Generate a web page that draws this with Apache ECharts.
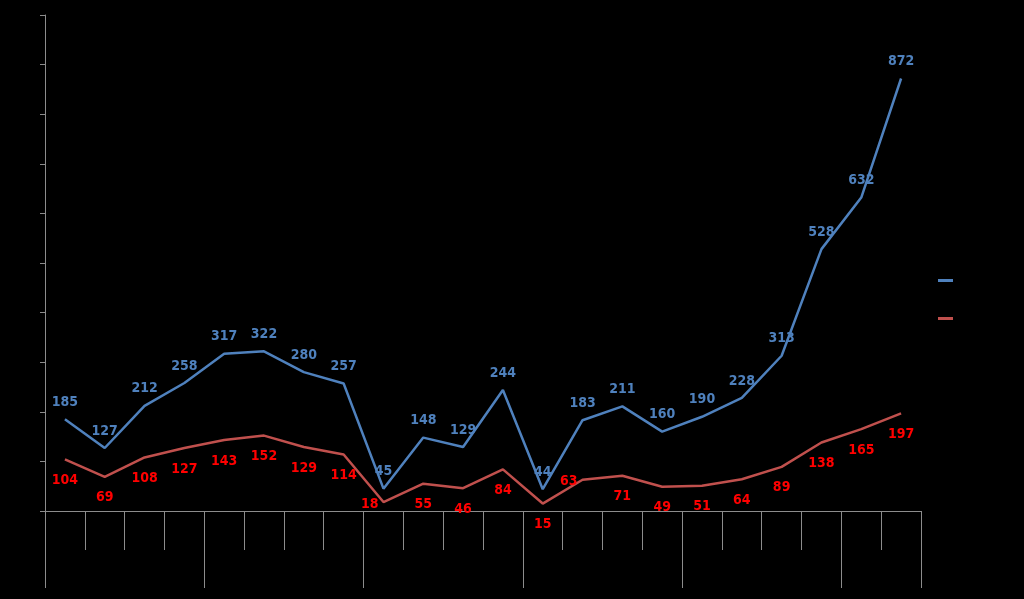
<!DOCTYPE html>
<html>
<head>
<meta charset="utf-8">
<script src="https://cdn.jsdelivr.net/npm/echarts@6/dist/echarts.min.js"></script>
<style>
html,body{margin:0;padding:0;background:#000;}
#chart{width:1024px;height:599px;}
</style>
</head>
<body>
<div id="chart"></div>
<script>
const categories = ['Q1','Q2','Q3','Q4','Q1','Q2','Q3','Q4','Q1','Q2','Q3','Q4','Q1','Q2','Q3','Q4','Q1','Q2','Q3','Q4','Q1','Q2'];
const seriesNames = ['Series 1', 'Series 2'];
const blueValues = [185,127,212,258,317,322,280,257,45,148,129,244,44,183,211,160,190,228,313,528,632,872];
const redValues = [104,69,108,127,143,152,129,114,18,55,46,84,15,63,71,49,51,64,89,138,165,197];
const groupSize = 4;
const yTicks = {min: 0, max: 1000, interval: 100};

// label placement tweaks (style only, kept apart from the data)
const redLabelLeft = {8: true, 13: true};

const axisGray = '#8c8c8c';
const labelFont = {fontFamily: '"DejaVu Sans Condensed", "DejaVu Sans", sans-serif', fontWeight: 'bold', fontSize: 14};

const redData = redValues.map(function (v, i) {
  if (redLabelLeft[i]) {
    return {value: v, label: {position: 'left', distance: 5, offset: [0, 2]}};
  }
  return v;
});

const chart = echarts.init(document.getElementById('chart'));
chart.setOption({
  backgroundColor: '#000',
  animation: false,
  legend: {
    orient: 'vertical',
    left: 933, top: 269,
    itemWidth: 15, itemHeight: 3, itemGap: 25,
    icon: 'rect',
    textStyle: {color: '#000', fontSize: 13},
    data: seriesNames
  },
  grid: {left: 45, right: 103, top: 15, bottom: 88, containLabel: false},
  xAxis: [{
    type: 'category',
    data: categories,
    boundaryGap: true,
    axisLine: {lineStyle: {color: axisGray, width: 1}},
    axisTick: {show: true, interval: 0, length: 39, lineStyle: {color: axisGray}},
    axisLabel: {color: '#000', interval: 0, margin: 14}
  }, {
    type: 'value',
    min: 0, max: categories.length, interval: groupSize,
    position: 'bottom',
    axisLine: {show: false},
    axisTick: {show: true, length: 77, lineStyle: {color: axisGray}},
    axisLabel: {show: false},
    splitLine: {show: false}
  }],
  yAxis: {
    type: 'value',
    min: yTicks.min, max: yTicks.max, interval: yTicks.interval,
    axisLine: {show: true, lineStyle: {color: axisGray}},
    axisTick: {show: true, length: 5, lineStyle: {color: axisGray}},
    axisLabel: {color: '#000'},
    splitLine: {show: false}
  },
  series: [{
    name: seriesNames[0],
    type: 'line',
    data: blueValues,
    symbol: 'circle',
    symbolSize: 0,
    showSymbol: true,
    color: '#4F81BD',
    lineStyle: {color: '#4F81BD', width: 2.5},
    label: Object.assign({show: true, position: 'top', distance: 10, color: '#4F81BD'}, labelFont),
    z: 3
  }, {
    name: seriesNames[1],
    type: 'line',
    data: redData,
    symbol: 'circle',
    symbolSize: 0,
    showSymbol: true,
    color: '#C0504D',
    lineStyle: {color: '#C0504D', width: 2.5},
    label: Object.assign({show: true, position: 'bottom', distance: 14, color: '#FF0000'}, labelFont),
    z: 2
  }]
});
</script>
</body>
</html>
